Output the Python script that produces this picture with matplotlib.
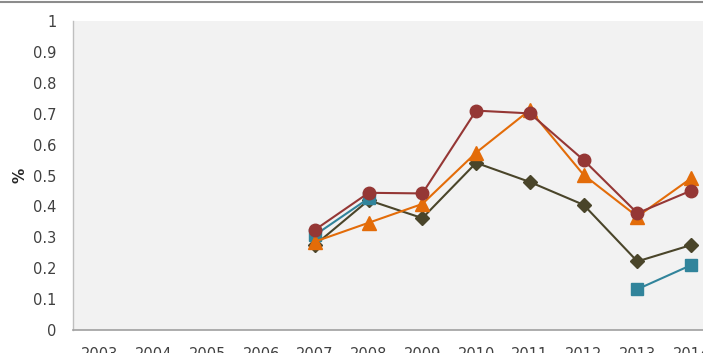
import numpy as np
import matplotlib
matplotlib.use("Agg")
import matplotlib.pyplot as plt
from matplotlib.lines import Line2D

years = [2003, 2004, 2005, 2006, 2007, 2008, 2009, 2010, 2011, 2012, 2013, 2014]
nan = np.nan

series_diamond = [nan, nan, nan, nan, 0.275, 0.42, 0.362, 0.541, 0.479, 0.405, 0.222, 0.275]
series_square = [nan, nan, nan, nan, 0.307, 0.426, nan, nan, nan, nan, 0.132, 0.210]
series_triangle = [nan, nan, nan, nan, 0.286, 0.347, 0.408, 0.574, 0.712, 0.502, 0.367, 0.491]
series_circle = [nan, nan, nan, nan, 0.324, 0.444, 0.442, 0.710, 0.701, 0.550, 0.378, 0.451]

y_ticks = [0, 0.1, 0.2, 0.3, 0.4, 0.5, 0.6, 0.7, 0.8, 0.9, 1]
y_tick_labels = ["0", "0.1", "0.2", "0.3", "0.4", "0.5", "0.6", "0.7", "0.8", "0.9", "1"]

W, H = 703, 353
fig = plt.figure(figsize=(W / 100, H / 100), dpi=100)
fig.patch.set_facecolor("white")

left, right, top, bottom = 73, 718, 21, 330
ax = fig.add_axes([left / W, (H - bottom) / H, (right - left) / W, (bottom - top) / H])
ax.set_facecolor("#F2F2F2")

x = np.arange(len(years))

ax.plot(x, series_diamond, color="#4A452A", marker="D", markersize=7.5, lw=1.5, zorder=3)
ax.plot(x, series_square, color="#31849B", marker="s", markersize=8, lw=1.5, zorder=3)
ax.plot(x, series_triangle, color="#E36C09", marker="^", markersize=10, lw=1.5, zorder=4)
ax.plot(x, series_circle, color="#953735", marker="o", markersize=9, lw=1.5, zorder=5)

ax.set_xlim(-0.5, len(years) - 0.5)
ax.set_ylim(0, 1)
ax.set_xticks(x)
ax.set_xticklabels([str(y) for y in years])
ax.set_yticks(y_ticks)
ax.set_yticklabels(y_tick_labels)
ax.tick_params(axis="both", length=0, labelsize=10.5, colors="#404040")
ax.tick_params(axis="y", pad=12)
ax.tick_params(axis="x", pad=12)

for side in ("top", "right"):
    ax.spines[side].set_visible(False)
ax.spines["left"].set_color("#BFBFBF")
ax.spines["bottom"].set_color("#A0A0A0")
ax.spines["left"].set_linewidth(1.0)
ax.spines["bottom"].set_linewidth(1.2)

fig.text(20 / W, 1 - 175 / H, "%", rotation=90, ha="center", va="center",
         fontsize=11, fontweight="bold", color="#262626")

fig.add_artist(Line2D([0, 1], [1 - 1.5 / H, 1 - 1.5 / H], color="#8C8C8C", lw=1.5))

fig.savefig("out.png", dpi=100)
